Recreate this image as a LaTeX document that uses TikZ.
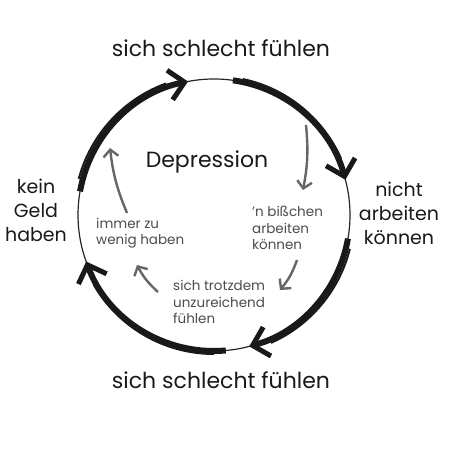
\documentclass[tikz,border=0pt]{standalone}
\usepackage{fontspec}
\setmainfont{Poppins}
\usetikzlibrary{arrows.meta,positioning}
\tikzstyle{outer} = [font=\fontsize{22}{24.5}\selectfont, align=center, text=black!90]
\tikzstyle{side} = [font=\fontsize{19}{24}\selectfont, align=center, text=black!90]
\tikzstyle{inner} = [font=\fontsize{13.5}{16.5}\selectfont, align=left, text=black!70, anchor=west, inner sep=1pt]
\tikzstyle{cycle} = [draw=black!90, line width=6pt, -{Straight Barb[length=15pt,width=30pt,line width=5pt]}]
\tikzstyle{rough} = [draw=black!90, line width=2pt]
\tikzstyle{minor} = [draw=black!60, line width=2.4pt, -{Straight Barb[length=7pt,width=15pt,line width=2.4pt]}]

\begin{document}
\begin{tikzpicture}[x=1pt,y=1pt]
\useasboundingbox (0,0) rectangle (454,454);

% Circle
\coordinate (c) at (214,239);
\draw[line width=1.2pt, black!85] (c) circle[radius=136];

% Points on the circle
\path (c) ++(170:136) coordinate (a1);
\path (c) ++(82:136) coordinate (a2);
\path (c) ++(-10:136) coordinate (a3);
\path (c) ++(-85:136) coordinate (a4);

% Outer cycle
\draw[cycle] (a1) arc[start angle=170, end angle=101, radius=136];
\draw[cycle] (a2) arc[start angle=82, end angle=15, radius=136];
\draw[cycle] (a3) arc[start angle=-10, end angle=-75, radius=136];
\draw[cycle] (a4) arc[start angle=-85, end angle=-160, radius=136];

% Rough strokes
\draw[rough] (c) ++(165:140) arc[start angle=165, end angle=110, radius=140];
\draw[rough] (c) ++(78:139) arc[start angle=78, end angle=24, radius=139];
\draw[rough] (c) ++(-14:140) arc[start angle=-14, end angle=-66, radius=140];
\draw[rough] (c) ++(-90:139) arc[start angle=-90, end angle=-150, radius=139];

% Outer labels
\node[outer] (top) at (221,406) {sich schlecht fühlen};
\node[side] (right) at (399,241) {nicht\\arbeiten\\können};
\node[outer] (bottom) at (221,74) {sich schlecht fühlen};
\node[side] (left) at (36,244) {kein\\Geld\\haben};

% Inner labels
\node[outer] (dep) at (207,292) {Depression};
\node[inner] (bit) at (251,226) {'n bißchen\\arbeiten\\können};
\node[inner] (trotz) at (172,152) {sich trotzdem\\unzureichend\\fühlen};
\node[inner] (immer) at (95,221) {immer zu\\wenig haben};

% Inner cycle
\coordinate (g1) at (306,329);
\coordinate (g4) at (110,306);
\draw[minor] (g1) to[bend left=8] ([shift={(52,38)}]bit.west);
\draw[minor] ([shift={(46,-32)}]bit.west) to[bend left=10] ([shift={(108,12)}]trotz.west);
\draw[minor] ([shift={(-14,10)}]trotz.west) to[bend left=10] ([shift={(42,-32)}]immer.west);
\draw[minor] ([shift={(32,20)}]immer.west) to[bend left=8] (g4);

\end{tikzpicture}
\end{document}
